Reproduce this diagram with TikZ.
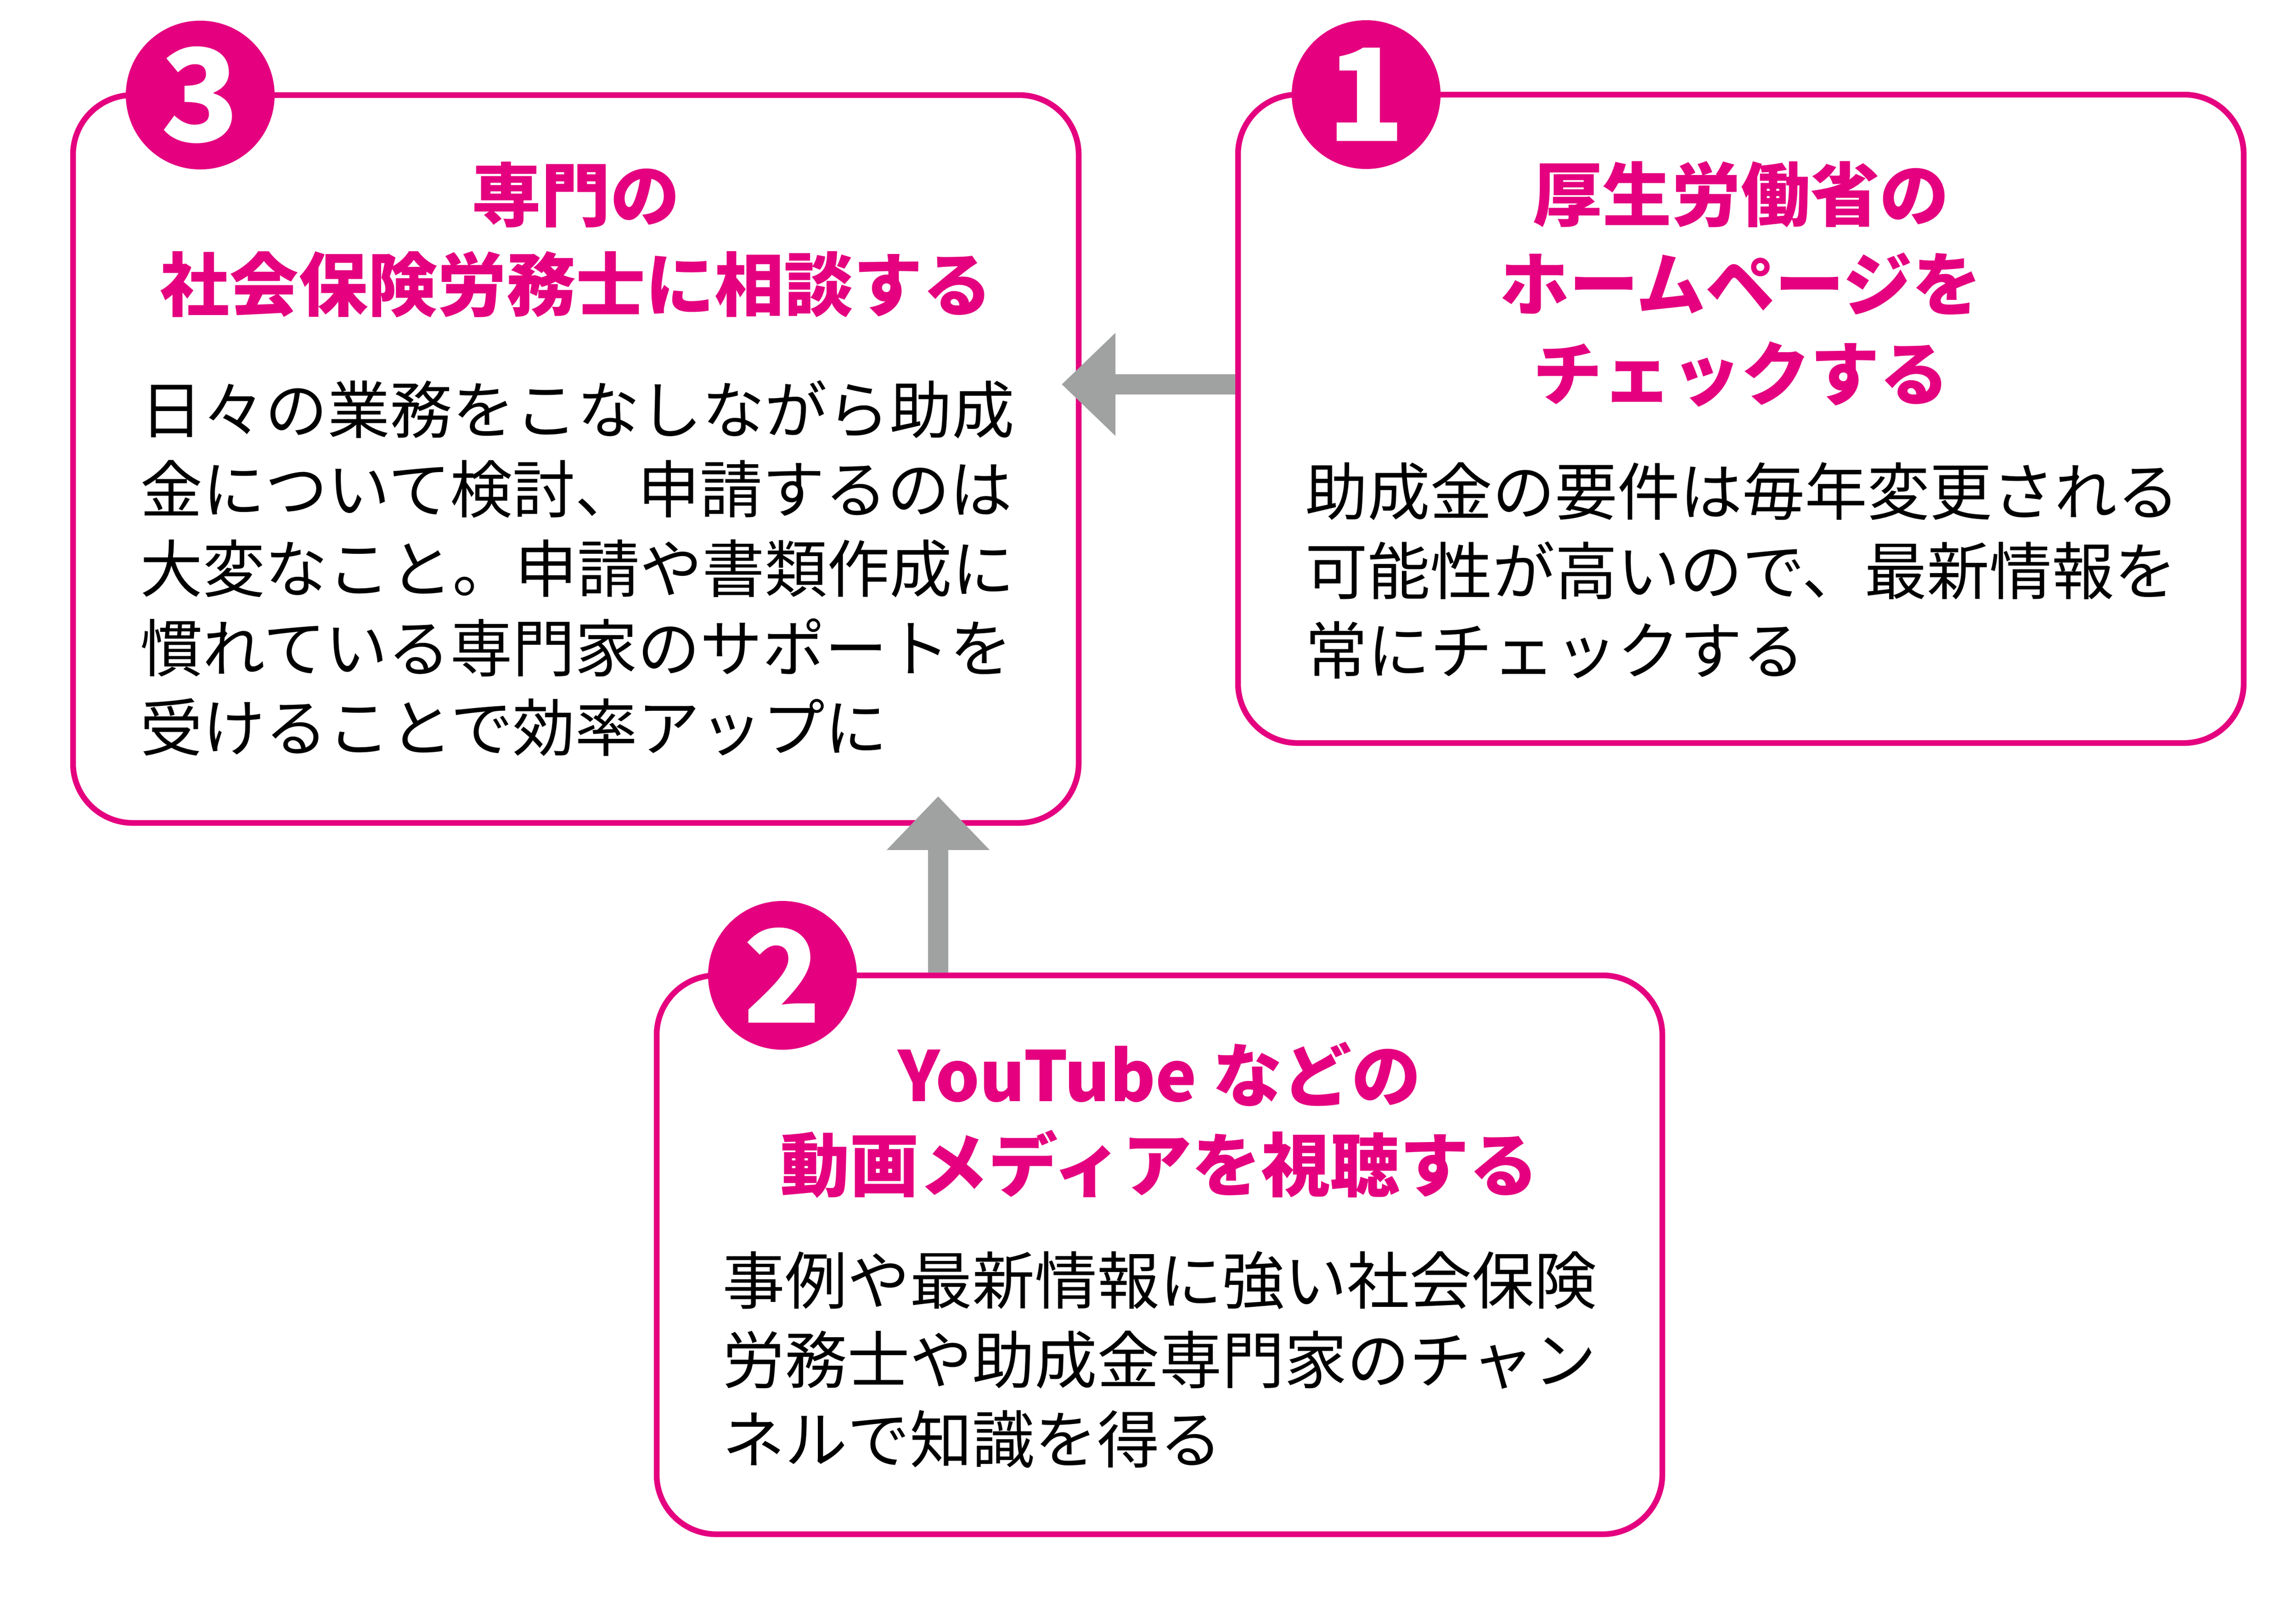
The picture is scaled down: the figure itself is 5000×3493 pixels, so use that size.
\documentclass[tikz,border=0pt]{standalone}
\usepackage{fontspec}
\setmainfont{Noto Sans CJK JP}
\usepackage{tikz}
\usetikzlibrary{positioning,arrows.meta}

\definecolor{brandpink}{RGB}{228,0,127}
\definecolor{arrowgray}{RGB}{160,161,161}

\begin{document}
\begin{tikzpicture}[x=0.2pt,y=-0.2pt]
\tikzset{
	card node/.style = {draw=brandpink, line width=2.5pt, fill=white, rounded corners=26pt, minimum width=438pt, inner sep=0, outer sep=0, anchor=north west},
	badge node/.style = {circle, fill=brandpink, minimum size=64.8pt, inner sep=0, text=white, font=\bfseries\fontsize{56pt}{56pt}\selectfont},
	title node/.style = {align=center, inner sep=0, text=brandpink, font=\bfseries\fontsize{30.2pt}{39pt}\selectfont},
	body node/.style = {align=left, inner sep=0, font=\fontsize{27.2pt}{34.6pt}\selectfont},
	flow arrow/.style = {draw=arrowgray, line width=8.8pt, -{Triangle[width=43.4pt,length=23.4pt]}},
}

\useasboundingbox[fill=white] (0,0) rectangle (5000,3493);

\node[card node, minimum height=317pt] (box3) at (159,207) {};
\node[card node, minimum height=282.4pt] (box1) at (2696,206) {};
\node[card node, minimum height=243.4pt] (box2) at (1430,2124) {};

\node[badge node] (badge3) at ([xshift=55.4pt]box3.north west) {3};
\node[badge node] (badge1) at ([xshift=55.8pt]box1.north west) {1};
\node[badge node] (badge2) at ([xshift=54.8pt]box2.north west) {2};

\node[title node, below=28.8pt of box3.north] (title3) {専門の\\社会保険労務士に相談する};
\node[title node, below=28.8pt of box1.north] (title1) {厚生労働省の\\ホームページを\\チェックする};
\node[title node, below=28.8pt of box2.north] (title2) {YouTube などの\\動画メディアを視聴する};

\node[body node, below right=124pt and 29pt of box3.north west] (text3) {日々の業務をこなしながら助成\\金について検討、申請するのは\\大変なこと。申請や書類作成に\\慣れている専門家のサポートを\\受けることで効率アップに};
\node[body node, below right=160pt and 29pt of box1.north west] (text1) {助成金の要件は毎年変更される\\可能性が高いので、最新情報を\\常にチェックする};
\node[body node, below right=120pt and 28.5pt of box2.north west] (text2) {事例や最新情報に強い社会保険\\労務士や助成金専門家のチャン\\ネルで知識を得る};

\coordinate (lane) at (0,837);
\coordinate (riser) at (2043,0);
\draw[flow arrow, shorten <=1.25pt, shorten >=-7.4pt] (box1.west |- lane) -- (box3.east |- lane);
\draw[flow arrow, shorten <=1.25pt, shorten >=-11.6pt] (box2.north -| riser) -- (box3.south -| riser);

\end{tikzpicture}
\end{document}
